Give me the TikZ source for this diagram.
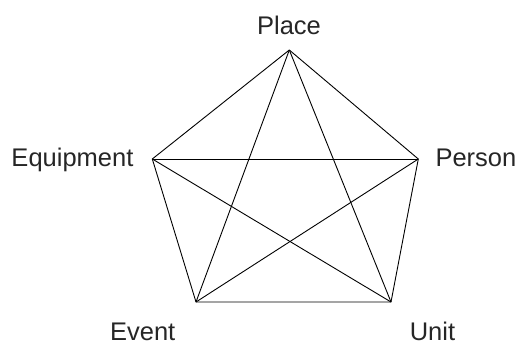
\documentclass[tikz,border=0pt]{standalone}
\usepackage{fontspec}
\setmainfont{Liberation Sans}
\begin{document}
\begin{tikzpicture}[x=1pt,y=-1pt,
  lbl/.style={inner sep=0pt,font=\fontsize{25.5}{30}\selectfont,text=black!85},
  edge/.style={line width=0.9pt,black}]
\useasboundingbox (0,0) rectangle (517,343);
\coordinate (place) at (289.3,50);
\coordinate (equip) at (152.3,159);
\coordinate (person) at (418.3,159);
\coordinate (event) at (196,302);
\coordinate (unit) at (391,302);
\draw[edge] (place) -- (equip) -- (event) -- (unit) -- (person) -- (place);
\draw[edge] (place) -- (event);
\draw[edge] (place) -- (unit);
\draw[edge] (equip) -- (person);
\draw[edge] (equip) -- (unit);
\draw[edge] (person) -- (event);
\node[lbl,anchor=base] (tplace) at (289,34.5) {Place};
\node[lbl,anchor=base west] (tequip) at (11.3,166) {Equipment};
\node[lbl,anchor=base west] (tperson) at (435.3,166) {Person};
\node[lbl,anchor=base east,text depth=0pt] (tevent) at (175.5,340) {Event};
\node[lbl,anchor=base west,text depth=0pt] (tunit) at (409.6,340) {Unit};
\end{tikzpicture}
\end{document}
